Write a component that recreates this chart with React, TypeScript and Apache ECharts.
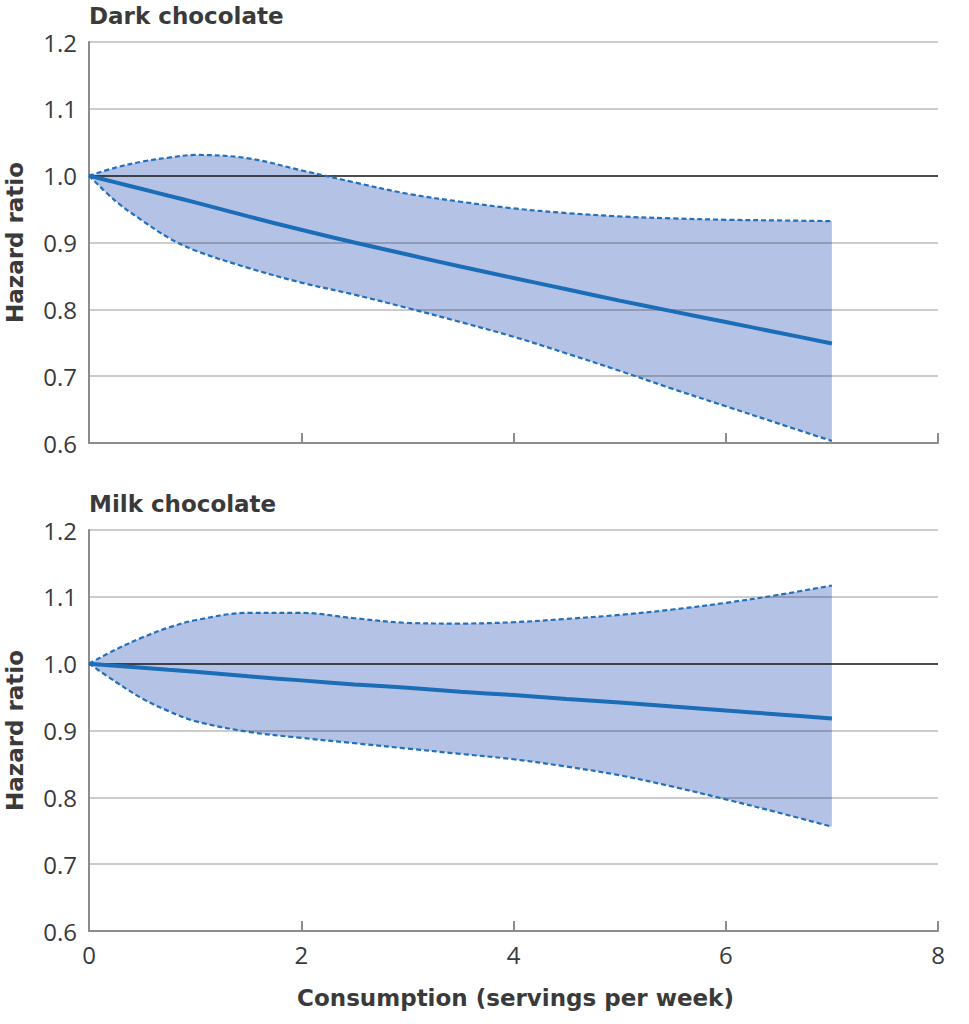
import React, { useEffect, useRef } from "react";
import * as echarts from "echarts";

const xValues = [0, 0.25, 0.5, 0.75, 1, 1.5, 2, 2.5, 3, 3.5, 4, 4.5, 5, 5.5, 6, 6.5, 7];

const darkCentral = [1.0, 0.99, 0.98, 0.97, 0.96, 0.939, 0.919, 0.9, 0.882, 0.864, 0.847, 0.83, 0.813, 0.797, 0.781, 0.765, 0.749];
const darkUpper = [1.0, 1.012, 1.021, 1.027, 1.031, 1.026, 1.008, 0.99, 0.973, 0.961, 0.951, 0.944, 0.939, 0.936, 0.934, 0.933, 0.932];
const darkLower = [1.0, 0.962, 0.933, 0.907, 0.888, 0.862, 0.84, 0.822, 0.802, 0.781, 0.759, 0.734, 0.708, 0.681, 0.655, 0.629, 0.603];

const milkCentral = [1.0, 0.997, 0.994, 0.991, 0.988, 0.981, 0.975, 0.969, 0.964, 0.958, 0.953, 0.947, 0.942, 0.936, 0.93, 0.924, 0.918];
const milkUpper = [1.0, 1.021, 1.039, 1.054, 1.065, 1.076, 1.076, 1.068, 1.061, 1.06, 1.062, 1.067, 1.073, 1.081, 1.091, 1.103, 1.117];
const milkLower = [1.0, 0.973, 0.948, 0.929, 0.914, 0.898, 0.889, 0.881, 0.873, 0.865, 0.857, 0.846, 0.833, 0.816, 0.797, 0.777, 0.756];

const xTicks = [0, 2, 4, 6, 8];
const yTicks = [0.6, 0.7, 0.8, 0.9, 1.0, 1.1, 1.2];
const referenceLevel = 1.0;
const panelTitles = ["Dark chocolate", "Milk chocolate"];
const yAxisTitle = "Hazard ratio";
const xAxisTitle = "Consumption (servings per week)";

const TICK_FONT = "'Open Sans', 'Noto Sans', sans-serif";
const BOLD_FONT = "'DejaVu Sans', 'Open Sans', sans-serif";
const TEXT = "#3a3a3a";
const BLUE = "#1a6db6";
const DASH_BLUE = "#2270ba";
const BAND = "#b4c3e5";
const GRID_GRAY = "rgba(0,0,0,0.27)";
const AXIS_GRAY = "#8c8c8c";
const SMOOTH = 0.35;

const pairs = (ys: number[]) => xValues.map((x, i) => [x, ys[i]]);

function panelSeries(idx: number, central: number[], upper: number[], lower: number[]) {
  const common = { xAxisIndex: idx, yAxisIndex: idx, symbol: "none", smooth: SMOOTH, silent: true };
  const lastX = xValues[xValues.length - 1];
  return [
    {
      ...common,
      type: "line",
      data: pairs(upper),
      lineStyle: { opacity: 0, width: 0 },
      areaStyle: { color: BAND, opacity: 1, origin: "start" },
      z: 1,
    },
    {
      ...common,
      type: "line",
      data: pairs(lower),
      lineStyle: { opacity: 0, width: 0 },
      areaStyle: { color: "#ffffff", opacity: 1, origin: "start" },
      z: 2,
    },
    {
      ...common,
      type: "line",
      smooth: false,
      data: [
        [lastX, yTicks[0]],
        [lastX, lower[lower.length - 1]],
      ],
      lineStyle: { color: "#ffffff", width: 2 },
      z: 2,
    },
    {
      ...common,
      type: "line",
      data: [],
      z: 4,
      markLine: {
        silent: true,
        symbol: "none",
        label: { show: false },
        lineStyle: { color: "#222", width: 1.5, type: "solid" },
        data: [{ yAxis: referenceLevel }],
        z: 4,
      },
    },
    {
      ...common,
      type: "line",
      data: pairs(upper),
      lineStyle: { color: DASH_BLUE, width: 2.2, type: [5, 3] },
      z: 5,
    },
    {
      ...common,
      type: "line",
      data: pairs(lower),
      lineStyle: { color: DASH_BLUE, width: 2.2, type: [5, 3] },
      z: 5,
    },
    {
      ...common,
      type: "line",
      data: pairs(central),
      lineStyle: { color: BLUE, width: 4 },
      z: 6,
    },
  ];
}

const GRID_LEFT = 89;
const GRID_WIDTH = 849;
const GRID_HEIGHT = 401;
const TOPS = [42, 530];

export default function App() {
  const ref = useRef<HTMLDivElement>(null);
  useEffect(() => {
    if (!ref.current) return;
    const chart = echarts.init(ref.current, undefined, { renderer: "svg" });
    const xAxis = [0, 1].map((i) => ({
      type: "value",
      gridIndex: i,
      min: xTicks[0],
      max: xTicks[xTicks.length - 1],
      interval: 2,
      z: 3,
      axisLine: { show: true, lineStyle: { color: AXIS_GRAY, width: 2 } },
      axisTick: { show: true, inside: true, length: 10, lineStyle: { color: AXIS_GRAY, width: 2 } },
      axisLabel: {
        show: i === 1,
        fontFamily: TICK_FONT,
        fontSize: 24,
        color: TEXT,
        margin: 11,
      },
      splitLine: { show: false },
    }));
    const yAxis = [0, 1].map((i) => ({
      type: "value",
      gridIndex: i,
      min: yTicks[0],
      max: yTicks[yTicks.length - 1],
      interval: 0.1,
      z: 3,
      axisLine: { show: true, lineStyle: { color: AXIS_GRAY, width: 2 } },
      axisTick: { show: false },
      axisLabel: {
        fontFamily: TICK_FONT,
        fontSize: 24,
        color: TEXT,
        margin: 12,
        formatter: (v: number) => v.toFixed(1),
      },
      splitLine: { show: true, lineStyle: { color: GRID_GRAY, width: 1.5 } },
    }));
    const graphic: any[] = [];
    TOPS.forEach((top, i) => {
      graphic.push({
        type: "text",
        x: GRID_LEFT,
        y: top - 26,
        style: {
          text: panelTitles[i],
          font: `bold 23px ${BOLD_FONT}`,
          fill: TEXT,
          textAlign: "left",
          textVerticalAlign: "middle",
        },
      });
      graphic.push({
        type: "text",
        x: 15,
        y: top + GRID_HEIGHT / 2,
        rotation: Math.PI / 2,
        style: {
          text: yAxisTitle,
          font: `bold 23px ${BOLD_FONT}`,
          fill: TEXT,
          textAlign: "center",
          textVerticalAlign: "middle",
        },
      });
    });
    graphic.push({
      type: "text",
      x: GRID_LEFT + GRID_WIDTH / 2 + 2,
      y: 998,
      style: {
        text: xAxisTitle,
        font: `bold 23px ${BOLD_FONT}`,
        fill: TEXT,
        textAlign: "center",
        textVerticalAlign: "middle",
      },
    });
    chart.setOption({
      animation: false,
      backgroundColor: "#fff",
      grid: TOPS.map((top) => ({ left: GRID_LEFT, top, width: GRID_WIDTH, height: GRID_HEIGHT })),
      xAxis,
      yAxis,
      series: [
        ...panelSeries(0, darkCentral, darkUpper, darkLower),
        ...panelSeries(1, milkCentral, milkUpper, milkLower),
      ],
      graphic,
    });
    return () => chart.dispose();
  }, []);
  return (
    <div
      ref={ref}
      style={{ position: "fixed", left: 0, top: 0, width: 969, height: 1024, background: "#fff" }}
    />
  );
}
